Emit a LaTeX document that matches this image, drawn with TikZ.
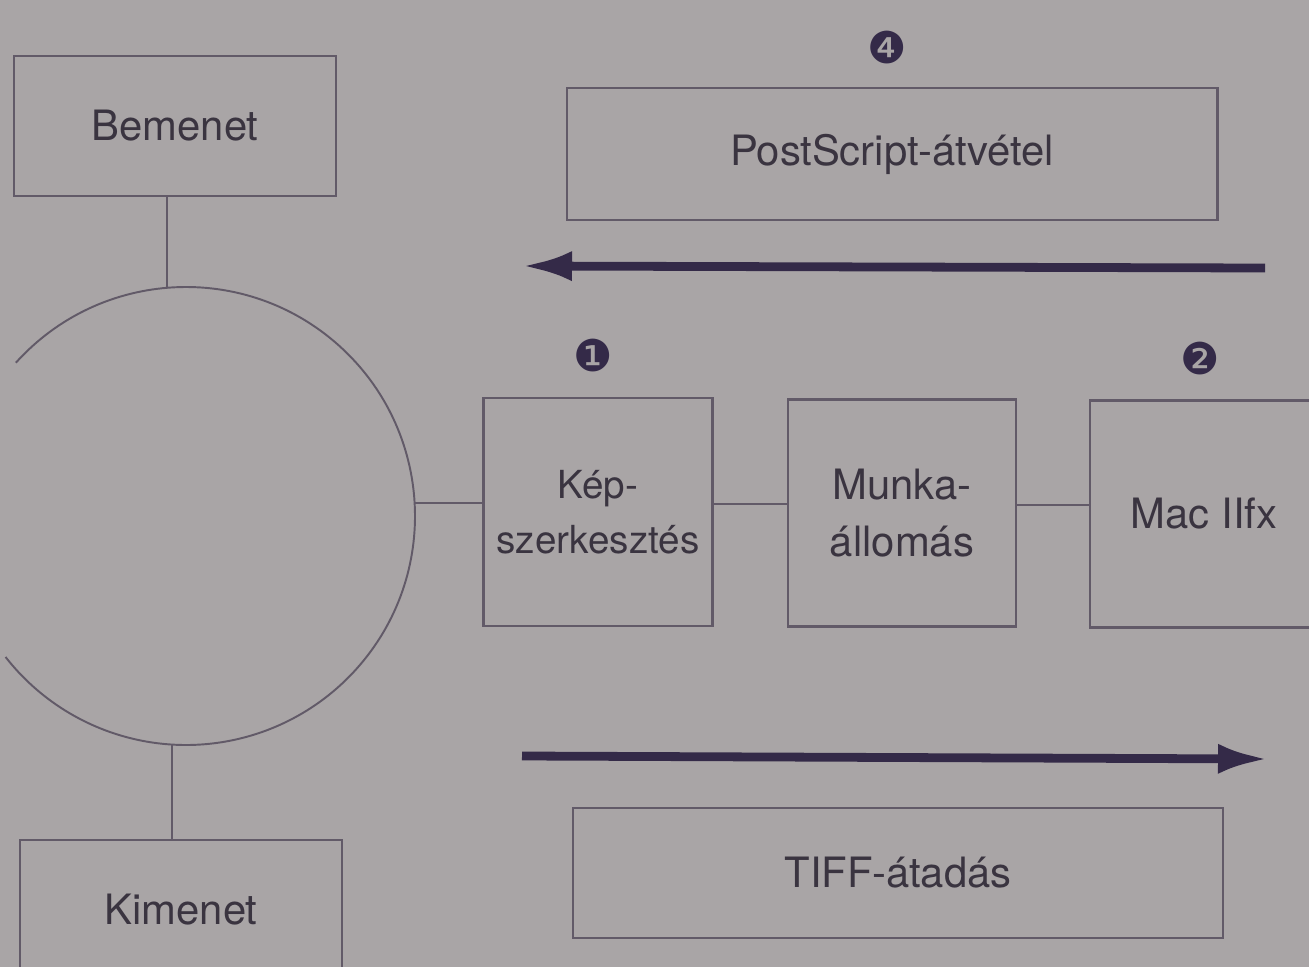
\documentclass[tikz,border=0pt]{standalone}
\usepackage{fontspec}
\setmainfont{TeX Gyre Heros}
\newfontfamily\dingfont{DejaVu Sans}
\usetikzlibrary{arrows.meta}
\definecolor{page_bg}{RGB}{169,165,166}
\definecolor{box_line}{RGB}{98,90,104}
\definecolor{box_text}{RGB}{58,52,64}
\definecolor{flow_arrow}{RGB}{52,42,72}
\tikzset{
    stepbox/.style={draw=box_line,line width=1.2pt,text=box_text,align=center,
        font=\fontsize{23.8}{32}\selectfont,inner sep=0pt},
    link/.style={draw=box_line,line width=1.1pt},
    flow/.style={-{Latex[length=10mm,width=6mm]},line width=5pt,flow_arrow},
    marker/.style={text=flow_arrow,font=\dingfont\fontsize{25}{25}\selectfont},
}

\begin{document}
\begin{tikzpicture}[x=0.02cm,y=-0.02cm]
  \fill[page_bg] (0,0) rectangle (1309,967);
  \useasboundingbox (0,0) rectangle (1309,967);
  % left column
  \node[stepbox,minimum width=6.44cm,minimum height=2.8cm] (bemenet) at (175,126) {Bemenet};
  \node[stepbox,minimum width=6.44cm,minimum height=2.8cm] (kimenet) at (181,910) {Kimenet};
  \coordinate (ring) at (186,516);
  \coordinate (ringN) at (167,288);
  \coordinate (ringS) at (172,745);
  \coordinate (ringE) at (415,503);
  \draw[link] (ring) ++(-138:229) arc (-138:142:229);
  \draw[link] (ringN) -- (ringN |- bemenet.south);
  \draw[link] (ringS) -- (ringS |- kimenet.north);
  % middle row
  \node[stepbox,minimum width=4.58cm,minimum height=4.56cm,font=\fontsize{22}{31}\selectfont] (kep) at (598,512) {Kép-\\szerkesztés};
  \node[stepbox,minimum width=4.56cm,minimum height=4.54cm] (munka) at (902,513) {Munka-\\állomás};
  \node[stepbox,minimum width=4.56cm,minimum height=4.54cm] (mac) at (1204,514) {Mac IIfx};
  \draw[link] (ringE) -- (ringE -| kep.west);
  \draw[link] (kep.east |- 0,504) -- (munka.west |- 0,504);
  \draw[link] (munka.east |- 0,505) -- (mac.west |- 0,505);
  \node[marker] (num1) at (593,355) {❶};
  \node[marker] (num2) at (1200,358) {❷};
  % transfers
  \node[stepbox,minimum width=13.02cm,minimum height=2.64cm] (postscript) at (892,154) {PostScript-átvétel};
  \node[stepbox,minimum width=13.0cm,minimum height=2.6cm] (tiff) at (898,873) {TIFF-átadás};
  \node[marker] (num4) at (887,47) {❹};
  \coordinate (backS) at (1265,268);
  \coordinate (backE) at (522,266);
  \coordinate (fwdS) at (522,756);
  \coordinate (fwdE) at (1268,759);
  \draw[flow] (backS) -- (backE);
  \draw[flow] (fwdS) -- (fwdE);
\end{tikzpicture}
\end{document}
